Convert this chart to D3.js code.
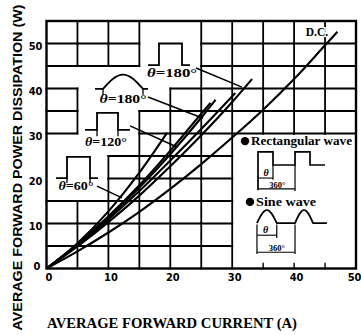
<!DOCTYPE html>
<html><head><meta charset="utf-8">
<script src="https://cdn.jsdelivr.net/npm/d3@7"></script>
<style>body{margin:0;background:#fff}svg{display:block}</style>
</head><body><svg id="c" width="361" height="335"></svg>
<script>
// ---- data ----
const xTicks = [0, 10, 20, 30, 40, 50];
const yTicks = [0, 10, 20, 30, 40, 50];
const dcI     = [0, 5, 10, 15, 20, 25, 30, 35, 40, 45, 47];
const dcP     = [0, 3.8, 8.0, 12.6, 17.7, 23.2, 29.1, 35.3, 42.1, 49.6, 52.6];
const rect180I = [0, 5, 10, 15, 20, 25, 30, 33.2];
const rect180P = [0, 4.9, 10.3, 16.2, 22.7, 29.6, 37.0, 42.1];
const sine180I = [0, 5, 10, 15, 20, 25, 30.5];
const sine180P = [0, 5.1, 10.9, 17.2, 24.0, 31.0, 39.0];
const rect120I = [0, 5, 10, 15, 20, 25, 27.3];
const rect120P = [0, 5.3, 11.3, 18.0, 25.4, 33.5, 37.5];
const rectXI   = [0, 5, 10, 15, 20, 25, 26.5];
const rectXP   = [0, 5.4, 11.6, 18.5, 26.2, 34.4, 36.8];
const rect60I  = [0, 5, 10, 15, 19.5];
const rect60P  = [0, 5.6, 12.7, 21.3, 30.2];
// grid cells (col = 5A step, row = 5W step) left blank behind annotations
const blankCells = [[3,8],[3,9],[3,10],[4,8],[4,9],[4,10],[0,8],[1,8],[2,8],
  [1,7],[2,7],[3,7],[1,6],[2,6],[0,5],[1,5],[2,5],[0,4],[1,4],[0,3],[1,3]];
for (let c = 6; c <= 9; c++) for (let r = 0; r <= 5; r++) blankCells.push([c, r]);

// ---- drawing ----
const svg = d3.select('#c');
const x = d3.scaleLinear([0, 50], [46.5, 356]);
const y = d3.scaleLinear([0, 55], [268.5, 21]);
const SERIF = "'Liberation Serif','DejaVu Serif',serif";
const SANS = "'Liberation Sans','DejaVu Sans',sans-serif";
const NARROW = "'DejaVu Sans Condensed','Liberation Sans Narrow','Liberation Sans',sans-serif";

const blank = new Set(blankCells.map(d => d[0] + ',' + d[1]));
const isB = (c, r) => blank.has(c + ',' + r);
const g = svg.append('g').attr('stroke', '#000').attr('stroke-width', 1.8).attr('stroke-linecap', 'square');
const nCols = 10, nRows = 11;
for (let k = 1; k < nCols; k++) {
  for (let r = 0; r < nRows; r++) {
    if (isB(k - 1, r) && isB(k, r)) continue;
    g.append('line').attr('x1', x(5 * k)).attr('x2', x(5 * k))
      .attr('y1', y(5 * r)).attr('y2', y(Math.min(55, 5 * r + 5)));
  }
}
for (let m = 1; m < nRows; m++) {
  for (let c = 0; c < nCols; c++) {
    if (isB(c, m - 1) && isB(c, m)) continue;
    g.append('line').attr('y1', y(5 * m)).attr('y2', y(5 * m))
      .attr('x1', x(5 * c)).attr('x2', x(5 * c + 5));
  }
}
// small inward ticks at the bottom of the legend area
[35, 40, 45].forEach(v => g.append('line').attr('x1', x(v)).attr('x2', x(v))
  .attr('y1', y(0)).attr('y2', y(0) - 5).attr('stroke-width', 1.4));
svg.append('rect').attr('x', x(0)).attr('y', y(55)).attr('width', x(50) - x(0))
  .attr('height', y(0) - y(55)).attr('fill', 'none').attr('stroke', '#000').attr('stroke-width', 2.4);

// axes tick labels
const xa = svg.append('g').attr('transform', `translate(2,${y(0)})`)
  .call(d3.axisBottom(x).tickValues(xTicks).tickSize(0).tickPadding(5).tickFormat(d3.format('d')));
xa.select('.domain').remove();
xa.selectAll('text').attr('font-family', NARROW).attr('font-weight', 'bold').attr('font-size', 11).attr('fill', '#000');
xa.selectAll('.tick').filter(d => d === 50).select('text').attr('text-anchor', 'end').attr('x', 361 - 2 - x(50));
const ya = svg.append('g').attr('transform', `translate(${x(0)},2)`)
  .call(d3.axisLeft(y).tickValues(yTicks).tickSize(0).tickPadding(4).tickFormat(d3.format('d')));
ya.select('.domain').remove();
ya.selectAll('text').attr('font-family', NARROW).attr('font-weight', 'bold').attr('font-size', 11).attr('fill', '#000');
ya.selectAll('.tick').filter(d => d === 0).select('text').attr('dy', '-0.1em').attr('x', -6);

// curves
const line = d3.line().x(d => x(d[0])).y(d => y(d[1])).curve(d3.curveMonotoneX);
const series = [[dcI, dcP], [rect180I, rect180P], [sine180I, sine180P], [rect120I, rect120P], [rectXI, rectXP], [rect60I, rect60P]];
series.forEach(([I, P]) => {
  svg.append('path').attr('d', line(I.map((v, i) => [v, P[i]])))
    .attr('fill', 'none').attr('stroke', '#000').attr('stroke-width', 2.1);
});

// annotations
const pl = d3.line().x(d => x(d[0])).y(d => y(d[1]));
const ann = svg.append('g').attr('fill', 'none').attr('stroke', '#000').attr('stroke-width', 1.8);
function path(pts, w) { ann.append('path').attr('d', pl(pts)).attr('stroke-width', w || 1.8); }
function label(cx, cy, val, w) {
  const t = svg.append('text').attr('x', x(cx)).attr('y', y(cy)).attr('dy', '0.35em')
    .attr('text-anchor', 'middle').attr('font-family', SERIF).attr('font-weight', 'bold')
    .attr('font-size', 12.5).attr('textLength', w).attr('lengthAdjust', 'spacingAndGlyphs');
  t.append('tspan').attr('font-style', 'italic').text('θ');
  t.append('tspan').text('=' + val + '°');
}
// half-sine hump (icon) from a to b (data x), baseline yb, peak yp (data y)
function hump(a, b, yb, yp) {
  const x0 = x(a), x1 = x(b), Yb = y(yb), Yp = y(yp), w = x1 - x0, h = Yb - Yp, u = w / Math.PI, xm = x0 + w / 2;
  return `C${x0 + 0.5123 * u},${Yb - 0.5123 * h} ${x0 + 1.0023 * u},${Yp} ${xm},${Yp}` +
         `C${x1 - 1.0023 * u},${Yp} ${x1 - 0.5123 * u},${Yb - 0.5123 * h} ${x1},${Yb}`;
}
// θ=180 rectangular
path([[16.4,45.2],[18.17,45.2],[18.17,50.0],[21.89,50.0],[21.89,45.2],[23.18,45.2]]);
label(20.27, 43.44, 180, 50);
path([[24.15,44.56],[31.58,40.3]], 1.5);
// θ=180 sine
ann.append('path').attr('d', `M${x(7.84)},${y(39.9)}L${x(9.13)},${y(39.9)}${hump(9.13, 15.59, 39.9, 43.1)}L${x(16.4)},${y(39.9)}`);
path([[9.13,39.9],[9.13,38.6]], 1.3); path([[15.59,39.9],[15.59,38.6]], 1.3);
label(12.36, 37.67, 180, 47);
path([[16.4,38.1],[25.28,33.4]], 1.5);
// θ=120 rectangular
path([[6.22,30.8],[8.16,30.8],[8.16,34.6],[11.55,34.6],[11.55,30.8],[13.49,30.8]]);
path([[8.16,30.8],[8.16,29.4]], 1.3); path([[11.55,30.8],[11.55,29.4]], 1.3);
label(9.61, 28.11, 120, 42);
path([[13.49,31.7],[21.08,27.0]], 1.5);
// θ=60 rectangular
path([[1.53,20.1],[3.31,20.1],[3.31,24.8],[7.03,24.8],[7.03,20.1],[8.32,20.1]]);
path([[3.31,20.1],[3.31,19.0]], 1.3); path([[7.03,20.1],[7.03,19.0]], 1.3);
label(4.77, 18.33, 60, 35);
path([[8.16,18.3],[12.2,15.7]], 1.5);

// D.C.
svg.append('text').attr('x', x(43.7)).attr('y', y(52.55)).attr('dy', '0.35em').attr('text-anchor', 'middle')
  .attr('font-family', SERIF).attr('font-weight', 'bold').attr('font-size', 11.5)
  .attr('stroke', '#fff').attr('stroke-width', 3).attr('paint-order', 'stroke').attr('fill', '#000').text('D.C.');

// legend
function ltext(tx, ty, s, w, fs) {
  return svg.append('text').attr('x', x(tx)).attr('y', y(ty)).attr('font-family', SERIF).attr('font-weight', 'bold')
    .attr('font-size', fs || 12.5).attr('textLength', w).attr('lengthAdjust', 'spacingAndGlyphs').text(s);
}
svg.append('circle').attr('cx', x(32.07)).attr('cy', y(28.3)).attr('r', 4.2).attr('fill', '#000');
ltext(33.04, 27.35, 'Rectangular wave', 101);
path([[34.17,17.4],[34.17,25.9],[36.59,25.9],[36.59,23.0],[40.15,23.0],[40.15,25.9],[42.57,25.9],[42.57,23.0],[44.99,23.0]], 1.7);
path([[36.59,23.0],[36.59,19.7]], 1.2); path([[40.15,23.0],[40.15,17.2]], 1.2);
path([[34.17,20.1],[36.59,20.1]], 1.1); path([[34.17,17.7],[40.15,17.7]], 1.1);
svg.append('text').attr('x', x(35.46)).attr('y', y(20.5)).attr('text-anchor', 'middle').attr('font-family', SERIF)
  .attr('font-style', 'italic').attr('font-weight', 'bold').attr('font-size', 10).text('θ');
svg.append('text').attr('x', x(37.3)).attr('y', y(17.9)).attr('text-anchor', 'middle').attr('font-family', SERIF)
  .attr('font-weight', 'bold').attr('font-size', 8.5).text('360°');

svg.append('circle').attr('cx', x(32.87)).attr('cy', y(14.8)).attr('r', 4.2).attr('fill', '#000');
ltext(33.85, 13.85, 'Sine wave', 60);
ann.append('path').attr('stroke-width', 1.7)
  .attr('d', `M${x(34.0)},${y(10.1)}${hump(34.0, 37.2, 10.1, 13.0)}L${x(40.15)},${y(10.1)}${hump(40.15, 43.06, 10.1, 13.0)}L${x(45.3)},${y(10.1)}`);
path([[34.0,9.8],[34.0,3.2]], 1.2); path([[37.2,9.8],[37.2,6.8]], 1.2); path([[40.15,9.8],[40.15,3.2]], 1.2);
path([[34.0,7.4],[37.2,7.4]], 1.1); path([[34.0,3.6],[40.15,3.6]], 1.1);
svg.append('text').attr('x', x(35.4)).attr('y', y(7.8)).attr('text-anchor', 'middle').attr('font-family', SERIF)
  .attr('font-style', 'italic').attr('font-weight', 'bold').attr('font-size', 10).text('θ');
svg.append('text').attr('x', x(37.2)).attr('y', y(3.85)).attr('text-anchor', 'middle').attr('font-family', SERIF)
  .attr('font-weight', 'bold').attr('font-size', 8.5).text('360°');

// axis titles
svg.append('text').attr('transform', 'translate(22,167.5) rotate(-90)').attr('text-anchor', 'middle')
  .attr('font-family', SANS).attr('font-weight', 'bold').attr('font-size', 13.5)
  .attr('textLength', 326).attr('lengthAdjust', 'spacingAndGlyphs').text('AVERAGE FORWARD POWER DISSIPATION (W)');
svg.append('text').attr('x', 47).attr('y', 328).attr('font-family', SERIF).attr('font-weight', 'bold')
  .attr('font-size', 15).attr('textLength', 250).attr('lengthAdjust', 'spacingAndGlyphs').text('AVERAGE FORWARD CURRENT (A)');
</script></body></html>
